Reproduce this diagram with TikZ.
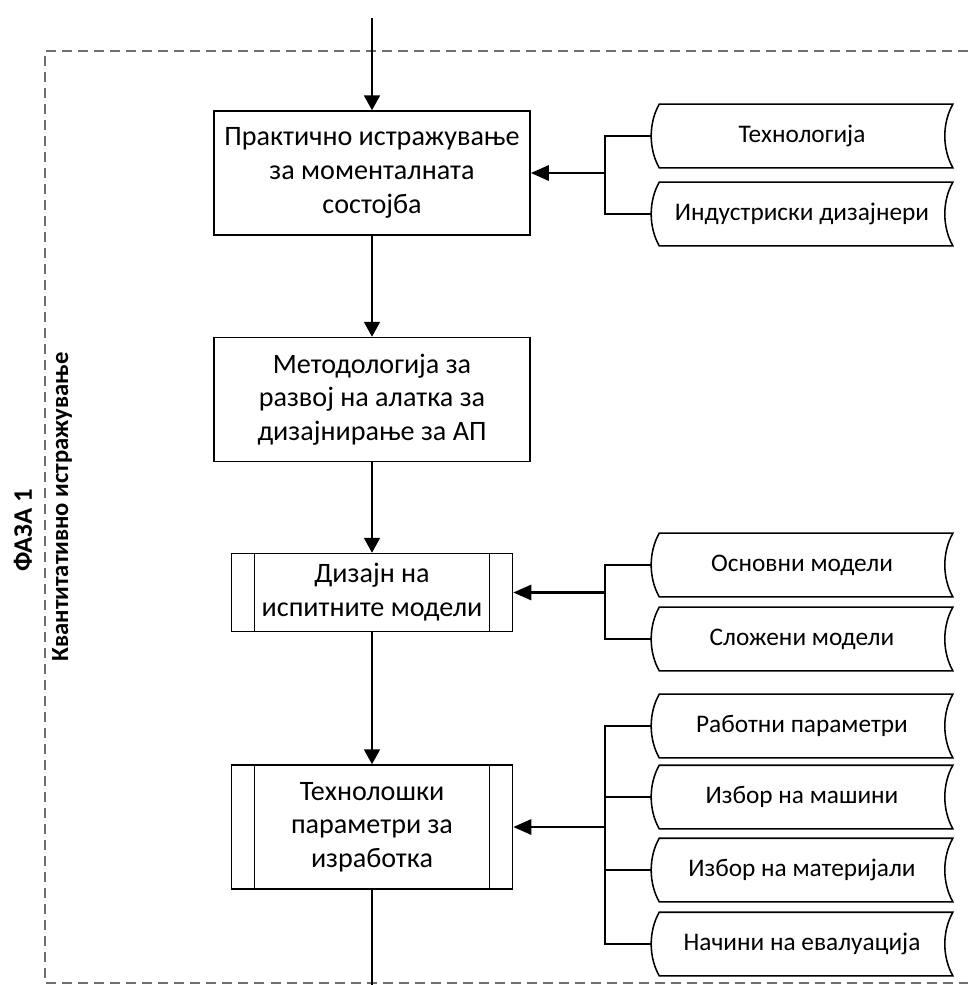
\documentclass[tikz,border=0pt]{standalone}
\usepackage{fontspec}
\setmainfont{Carlito}
\usetikzlibrary{arrows.meta, calc}
\definecolor{cframe}{HTML}{6E6E6E}
\tikzset{
  every picture/.style={font=\fontsize{20}{24}\selectfont, line width=1.1pt},
  box/.style={draw, align=center, minimum width=7.9cm, minimum height=3.1cm, inner sep=2pt},
  procbox/.style={box, minimum width=7.025cm},
  stack/.style={align=center, minimum width=7.5cm, minimum height=1.55cm, inner sep=0pt, font=\fontsize{18}{22}\selectfont},
  flow/.style={-{Triangle[length=0.37cm, width=0.4cm]}, line width=1.1pt},
  feed/.style={-{Triangle[length=0.45cm, width=0.38cm]}, line width=1.7pt},
  branch/.style={line width=1.4pt},
  phase/.style={font=\fontsize{19}{22}\selectfont\bfseries, rotate=90},
}
\begin{document}
\begin{tikzpicture}[x=0.025cm, y=-0.025cm]
  \useasboundingbox (0,0) rectangle (968,985);
  % phase frame, open to the right
  \draw[cframe, line width=1.5pt, dash pattern=on 0.25cm off 0.15cm] (968,51) -- (45,51) -- (45,983) -- (968,983);
  \node[phase] (phasename) at (23,530) {ФАЗА 1};
  \node[phase, font=\fontsize{17.5}{21}\selectfont\bfseries] (phasetext) at (62,507) {Квантитативно истражување};

  % main column
  \coordinate (entry) at (372,18);
  \coordinate (exit) at (372,985);
  \node[box] (survey) at (372,173) {Практично истражување\\за моменталната\\состојба};
  \node[box] (method) at (372,399.5) {Методологија за\\развој на алатка за\\дизајнирање за АП};
  \node[procbox, minimum height=1.95cm] (design) at (372,592.5) {Дизајн на\\испитните модели};
  \node[procbox] (techpar) at (372,827) {Технолошки\\параметри за\\изработка};
  \foreach \n in {design, techpar} {
    \draw ([xshift=0.6cm]\n.north west) -- ([xshift=0.6cm]\n.south west);
    \draw ([xshift=-0.6cm]\n.north east) -- ([xshift=-0.6cm]\n.south east);
  }
  \draw[flow] (entry) -- (survey);
  \draw[flow] (survey) -- (method);
  \draw[flow] (method) -- (design);
  \draw[flow] (design) -- (techpar);
  \draw (techpar) -- (exit);

  % inputs on the right
  \node[stack] (tech) at (802,136) {Технологија};
  \node[stack] (indus) at (802,214) {Индустриски дизајнери};
  \node[stack] (basic) at (802,565) {Основни модели};
  \node[stack] (complex) at (802,639) {Сложени модели};
  \node[stack] (workpar) at (802,726) {Работни параметри};
  \node[stack] (machine) at (802,797) {Избор на машини};
  \node[stack] (material) at (802,870) {Избор на материјали};
  \node[stack] (evalu) at (802,944) {Начини на евалуација};
  \foreach \s in {tech, indus, basic, complex, workpar, machine, material, evalu}
    \draw ([xshift=0.2cm]\s.north west) -- (\s.north east)
      .. controls ([shift={(-0.267cm,-0.475cm)}]\s.north east) and ([shift={(-0.267cm,0.475cm)}]\s.south east) .. (\s.south east)
      -- ([xshift=0.2cm]\s.south west)
      .. controls ([shift={(-0.067cm,0.475cm)}]\s.south west) and ([shift={(-0.067cm,-0.475cm)}]\s.north west) .. cycle;

  \coordinate (jA) at (605,173);
  \coordinate (jB) at (605,592.5);
  \coordinate (jC) at (605,827);
  \draw[branch] (tech.west) -| (jA) |- (indus.west);
  \draw[branch] (basic.west) -| (jB) |- (complex.west);
  \draw[branch] (workpar.west) -| (jC) |- (evalu.west);
  \foreach \s in {machine, material}
    \draw[branch] (\s.west) -- (\s.west -| jC);
  \draw[feed] (jA) -- (survey.east);
  \draw[feed] (jB) -- (design.east);
  \draw[feed] (jC) -- (techpar.east);
\end{tikzpicture}
\end{document}
